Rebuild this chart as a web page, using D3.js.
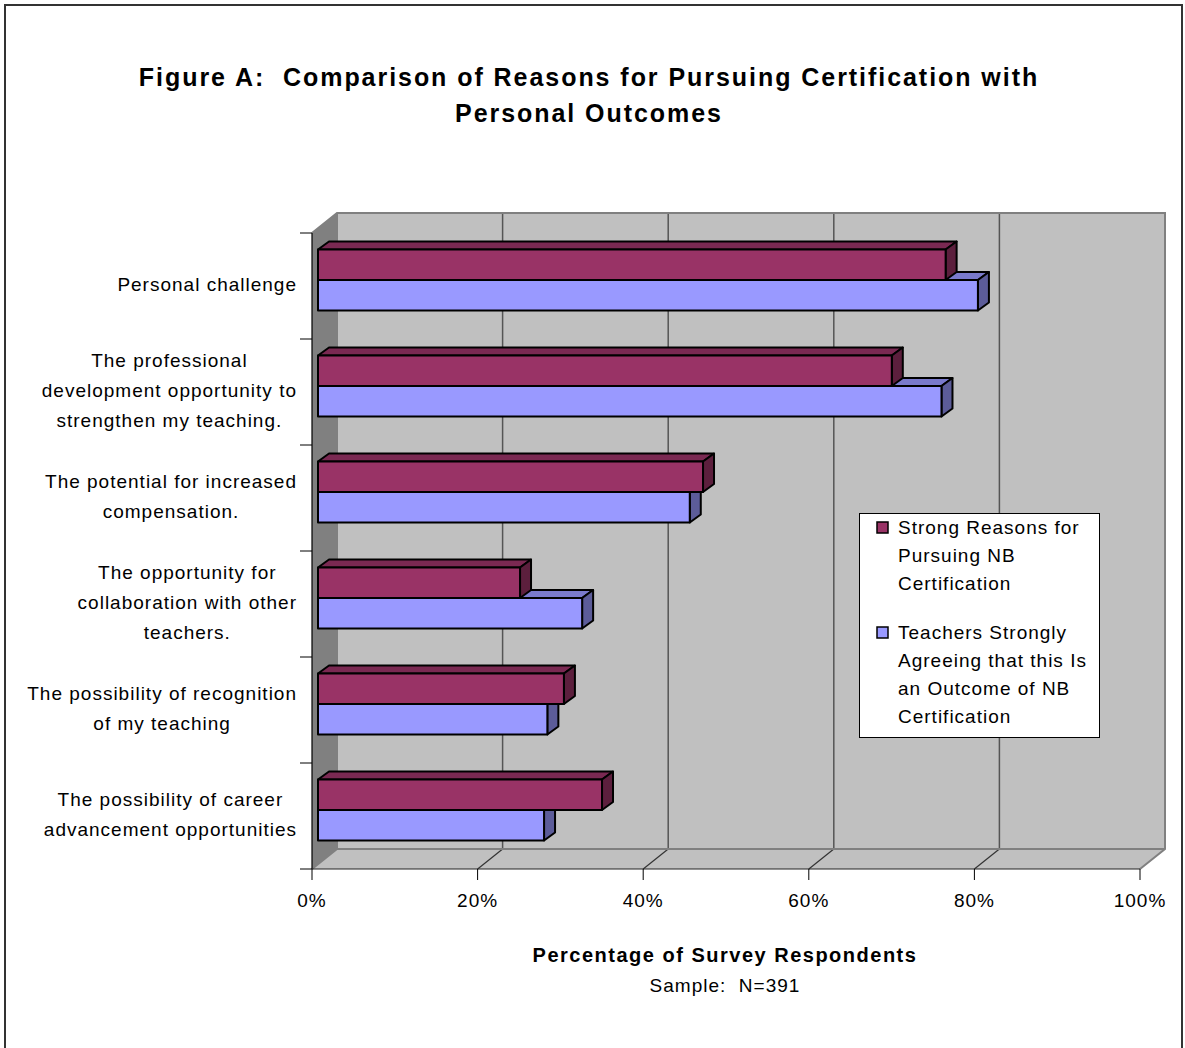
<!DOCTYPE html>
<html>
<head>
<meta charset="utf-8">
<script src="https://cdn.jsdelivr.net/npm/d3@7"></script>
<style>
  body { margin: 0; background: #fff; }
  svg { display: block; }
  text { font-family: Arial, "Liberation Sans", sans-serif; fill: #000; letter-spacing: 1px; }
</style>
</head>
<body>
<div id="chart"></div>
<script>
// data
const categories = [
  "Personal challenge",
  "The professional\ndevelopment opportunity to\nstrengthen my teaching.",
  "The potential for increased\ncompensation.",
  "The opportunity for\ncollaboration with other\nteachers.",
  "The possibility of recognition\nof my teaching",
  "The possibility of career\nadvancement opportunities"
];
const reasons = [75.8, 69.3, 46.5, 24.4, 29.7, 34.3];
const outcomes = [79.7, 75.3, 44.9, 31.9, 27.7, 27.3];
const seriesNames = [
  "Strong Reasons for\nPursuing NB\nCertification",
  "Teachers Strongly\nAgreeing that this Is\nan Outcome of NB\nCertification"
];
const xTicks = [0, 20, 40, 60, 80, 100];

const width = 1185, height = 1048;
const colors = [
  { front: "#993366", top: "#7a2952", side: "#5c1f3d" },
  { front: "#9999ff", top: "#7a7acc", side: "#5c5c99" }
];

// 3d offsets: wall depth, bar front plane and bar depth
const wall = { dx: 25, dy: -20 };
const barOff = { dx: 6, dy: -6 };
const barDepth = { dx: 11, dy: -8 };

const svg = d3.select("#chart").append("svg")
  .attr("width", width)
  .attr("height", height);

// outer border
svg.append("rect")
  .attr("x", 5).attr("y", 5)
  .attr("width", 1177).attr("height", 1070)
  .attr("fill", "none").attr("stroke", "#333").attr("stroke-width", 2);

const x = d3.scaleLinear().domain([0, 100]).range([312, 1140]);
const y = d3.scaleBand().domain(categories).range([233, 869]);
const yInner = d3.scaleBand().domain([0, 1]).range([0, y.bandwidth()]).paddingOuter(0.74);

const top0 = y.range()[0], bot0 = y.range()[1];
const left0 = x(0), right0 = x(100);

// back wall
svg.append("rect")
  .attr("x", left0 + wall.dx).attr("y", top0 + wall.dy)
  .attr("width", right0 - left0).attr("height", bot0 - top0)
  .attr("fill", "#c0c0c0");

// left wall
svg.append("polygon")
  .attr("points", [[left0, top0], [left0 + wall.dx, top0 + wall.dy], [left0 + wall.dx, bot0 + wall.dy], [left0, bot0]].join(" "))
  .attr("fill", "#808080");

// floor
svg.append("polygon")
  .attr("points", [[left0, bot0], [left0 + wall.dx, bot0 + wall.dy], [right0 + wall.dx, bot0 + wall.dy], [right0, bot0]].join(" "))
  .attr("fill", "#c0c0c0");

// gridlines on back wall and floor
const inner = xTicks.slice(1, -1);
svg.selectAll("line.grid")
  .data(inner)
  .join("line")
  .attr("x1", d => x(d) + wall.dx).attr("x2", d => x(d) + wall.dx)
  .attr("y1", top0 + wall.dy).attr("y2", bot0 + wall.dy)
  .attr("stroke", "#555").attr("stroke-width", 1.5);
svg.selectAll("line.floorgrid")
  .data(inner)
  .join("line")
  .attr("x1", d => x(d) + wall.dx).attr("x2", d => x(d))
  .attr("y1", bot0 + wall.dy).attr("y2", bot0)
  .attr("stroke", "#333").attr("stroke-width", 1.2);

// gray wall edges
const edges = [
  [[left0, top0], [left0 + wall.dx, top0 + wall.dy], [right0 + wall.dx, top0 + wall.dy], [right0 + wall.dx, bot0 + wall.dy], [right0, bot0]],
  [[left0 + wall.dx, top0 + wall.dy], [left0 + wall.dx, bot0 + wall.dy], [right0 + wall.dx, bot0 + wall.dy]],
  [[left0, bot0], [left0 + wall.dx, bot0 + wall.dy]]
];
svg.selectAll("polyline.edge")
  .data(edges)
  .join("polyline")
  .attr("points", d => d.join(" "))
  .attr("fill", "none").attr("stroke", "#808080").attr("stroke-width", 2);

// axis lines
svg.append("line")
  .attr("x1", left0).attr("x2", left0).attr("y1", top0).attr("y2", bot0)
  .attr("stroke", "#000").attr("stroke-width", 1.2);
svg.append("line")
  .attr("x1", left0).attr("x2", right0).attr("y1", bot0).attr("y2", bot0)
  .attr("stroke", "#222").attr("stroke-width", 1.2);

// category ticks at band boundaries
const yTickPos = categories.map(c => y(c)).concat([bot0]);
svg.selectAll("line.ytick")
  .data(yTickPos)
  .join("line")
  .attr("x1", left0 - 12).attr("x2", left0)
  .attr("y1", d => d).attr("y2", d => d)
  .attr("stroke", "#000").attr("stroke-width", 1);

// x ticks + labels
svg.selectAll("line.xtick")
  .data(xTicks)
  .join("line")
  .attr("x1", d => x(d)).attr("x2", d => x(d))
  .attr("y1", bot0).attr("y2", bot0 + 11)
  .attr("stroke", "#000").attr("stroke-width", 1);
svg.selectAll("text.xlab")
  .data(xTicks)
  .join("text")
  .attr("x", d => x(d)).attr("y", 907)
  .attr("text-anchor", "middle")
  .style("font-size", "19px")
  .text(d => d + "%");

// bars: blue first so the red one sits on top of it
function bar(g, v, yt, c) {
  const h = yInner.bandwidth();
  const x0 = x(0) + barOff.dx, x1 = x(v) + barOff.dx;
  const t = yt + barOff.dy, b = t + h;
  const dx = barDepth.dx, dy = barDepth.dy;
  g.append("polygon")
    .attr("points", [[x0, t], [x0 + dx, t + dy], [x1 + dx, t + dy], [x1, t]].join(" "))
    .attr("fill", c.top);
  g.append("polygon")
    .attr("points", [[x1, t], [x1 + dx, t + dy], [x1 + dx, b + dy], [x1, b]].join(" "))
    .attr("fill", c.side);
  g.append("rect")
    .attr("x", x0).attr("y", t).attr("width", x1 - x0).attr("height", h)
    .attr("fill", c.front);
  g.selectAll("polygon, rect")
    .attr("stroke", "#000").attr("stroke-width", 2).attr("stroke-linejoin", "round");
}

categories.forEach((c, i) => {
  const gb = svg.append("g");
  bar(gb, outcomes[i], y(c) + yInner(1), colors[1]);
  const gr = svg.append("g");
  bar(gr, reasons[i], y(c) + yInner(0), colors[0]);
});

// category labels: centred block, widest line ends at the right edge
const lineH = 30;
categories.forEach(c => {
  const lines = c.split("\n");
  const cy = y(c) + y.bandwidth() / 2;
  const t = svg.append("text")
    .attr("text-anchor", "middle")
    .style("font-size", "19px");
  lines.forEach((l, k) => {
    t.append("tspan")
      .attr("y", cy + (k - (lines.length - 1) / 2) * lineH + 5)
      .text(l);
  });
  let w = 0;
  t.selectAll("tspan").each(function () { w = Math.max(w, this.getComputedTextLength()); });
  t.selectAll("tspan").attr("x", 297 - w / 2);
});

// legend
const lg = svg.append("g");
lg.append("rect")
  .attr("x", 859.5).attr("y", 513.5).attr("width", 240).attr("height", 224)
  .attr("fill", "#fff").attr("stroke", "#000").attr("stroke-width", 1);
const legendTop = [528, 633];
seriesNames.forEach((s, i) => {
  lg.append("rect")
    .attr("x", 877).attr("y", legendTop[i] - 6).attr("width", 11).attr("height", 11)
    .attr("fill", colors[i].front).attr("stroke", "#000").attr("stroke-width", 1.5);
  s.split("\n").forEach((l, k) => {
    lg.append("text")
      .attr("x", 898).attr("y", legendTop[i] + k * 28 + 6)
      .style("font-size", "19px")
      .text(l);
  });
});

// title
const title = ["Figure A:  Comparison of Reasons for Pursuing Certification with", "Personal Outcomes"];
svg.selectAll("text.title")
  .data(title)
  .join("text")
  .attr("x", 589).attr("y", (d, i) => 86 + i * 36)
  .attr("text-anchor", "middle")
  .style("font-size", "25px").style("font-weight", "bold")
  .style("letter-spacing", "1.95px")
  .style("white-space", "pre")
  .text(d => d);

// axis title
svg.append("text")
  .attr("x", 725).attr("y", 962)
  .attr("text-anchor", "middle")
  .style("font-size", "20px").style("font-weight", "bold")
  .style("letter-spacing", "1.5px")
  .text("Percentage of Survey Respondents");
svg.append("text")
  .attr("x", 725).attr("y", 992)
  .attr("text-anchor", "middle")
  .style("font-size", "19px")
  .style("white-space", "pre")
  .text("Sample:  N=391");
</script>
</body>
</html>
